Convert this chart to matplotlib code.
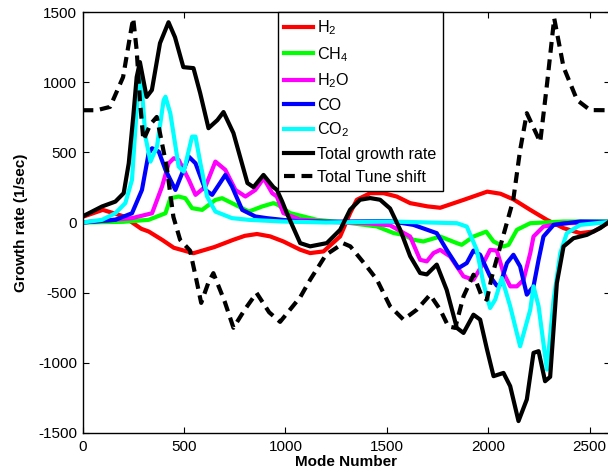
import matplotlib
matplotlib.use("Agg")
import matplotlib.pyplot as plt

plt.rcParams['font.family'] = ['Liberation Sans', 'DejaVu Sans']
plt.rcParams['mathtext.default'] = 'regular'
plt.rcParams['axes.unicode_minus'] = False

# ---- data ----
h2_x = [0, 100, 200, 290, 326, 392, 450, 547, 650, 744, 800, 860, 925, 990, 1073, 1122, 1188,
        1270, 1319, 1352, 1418, 1484, 1549, 1615, 1700, 1763, 1878, 1995, 2060, 2124, 2207,
        2289, 2371, 2453, 2519, 2600]
h2_y = [40, 90, 45, -45, -64, -123, -180, -219, -175, -123, -95, -82, -99, -135, -194, -218, -206,
        -99, 67, 162, 209, 209, 185, 138, 115, 105, 161, 220, 205, 165, 90,
        19, -40, -76, -64, 5]

ch4_x = [0, 200, 326, 409, 433, 474, 507, 540, 590, 655, 688, 737, 820, 885, 941, 958, 1023,
         1155, 1319, 1451, 1533, 1582, 1631, 1680, 1763, 1845, 1869, 1927, 1990, 2026, 2075,
         2100, 2141, 2207, 2371, 2600]
ch4_y = [0, 5, 19, 66, 173, 185, 173, 102, 90, 161, 173, 138, 78, 114, 138, 130, 67,
         19, -4, -28, -75, -88, -123, -135, -100, -147, -159, -100, -65, -135, -171,
         -159, -52, -5, 7, 7]

h2o_x = [0, 244, 343, 392, 425, 450, 474, 524, 557, 606, 655, 704, 754, 803, 852, 893, 935,
         958, 990, 1073, 1200, 1400, 1516, 1615, 1664, 1697, 1730, 1763, 1812, 1878, 1927,
         1976, 2009, 2042, 2075, 2108, 2141, 2174, 2207, 2223, 2272, 2371, 2600]
h2o_y = [0, 31, 66, 256, 422, 458, 446, 304, 197, 256, 434, 375, 232, 185, 232, 315, 209,
         185, 67, 20, 5, -5, -20, -100, -266, -277, -218, -195, -242, -384, -408,
         -289, -195, -200, -360, -455, -455, -408, -218, -100, -29, -5, 0]

co_x = [0, 162, 244, 293, 326, 343, 376, 409, 458, 491, 524, 557, 606, 639, 688, 704, 737,
        787, 852, 908, 984, 1073, 1200, 1516, 1631, 1746, 1795, 1853, 1894, 1927, 1960, 2009,
        2042, 2059, 2092, 2124, 2157, 2190, 2223, 2248, 2272, 2322, 2453, 2600]
co_y = [0, 19, 66, 232, 493, 529, 505, 375, 232, 351, 469, 422, 232, 197, 304, 339, 256,
        90, 43, 31, 19, 7, 5, 10, -17, -76, -195, -325, -289, -200, -230, -384,
        -450, -443, -289, -230, -313, -514, -455, -266, -100, -17, 7, 5]

co2_x = [0, 96, 162, 211, 244, 260, 277, 287, 310, 335, 367, 400, 409, 433, 474, 499, 540,
         557, 581, 614, 655, 737, 820, 984, 1200, 1516, 1845, 1894, 1943, 1976, 2009, 2034,
         2059, 2067, 2108, 2157, 2207, 2223, 2248, 2289, 2322, 2355, 2387, 2453, 2600]
co2_y = [0, 19, 66, 138, 304, 659, 1003, 1062, 612, 434, 540, 872, 896, 777, 398, 363, 612,
         612, 422, 185, 78, 31, 19, 7, 0, 7, -5, -29, -194, -432, -609, -550,
         -432, -396, -597, -882, -621, -455, -597, -1048, -550, -218, -76, -17, 5]

tot_x = [0, 96, 162, 203, 228, 250, 267, 283, 316, 342, 382, 424, 456, 497, 547, 580, 621,
         665, 695, 744, 813, 843, 892, 941, 958, 984, 1007, 1073, 1122, 1204, 1270, 1319, 1368,
         1418, 1467, 1516, 1566, 1615, 1664, 1697, 1746, 1795, 1845, 1878, 1927, 1960, 1993,
         2026, 2075, 2108, 2149, 2190, 2223, 2248, 2280, 2305, 2338, 2371, 2420, 2486, 2552,
         2600]
tot_y = [43, 114, 149, 209, 422, 752, 1036, 1143, 895, 944, 1278, 1427, 1320, 1107, 1100, 922, 672,
         730, 787, 637, 281, 252, 339, 252, 233, 150, 67, -147, -170, -147, -52, 91, 162,
         174, 162, 100, -52, -240, -360, -370, -300, -480, -751, -787, -657, -692, -900,
         -1095, -1072, -1166, -1415, -1261, -929, -917, -1131, -1100, -432, -171, -112, -88, -40,
         10]

tune_x = [0, 70, 136, 200, 242, 250, 267, 283, 300, 335, 366, 415, 448, 481, 530, 560, 585,
          620, 645, 700, 744, 800, 858, 920, 974, 1074, 1122, 1200, 1285, 1320, 1402, 1451,
          1516, 1582, 1648, 1713, 1763, 1803, 1837, 1878, 1927, 1968, 1993, 2018, 2059, 2123,
          2157, 2190, 2256, 2290, 2325, 2371, 2438, 2502, 2600]
tune_y = [800, 800, 824, 1036, 1393, 1455, 1228, 872, 587, 700, 752, 396, 40, -123, -200, -400, -573,
          -430, -361, -560, -750, -620, -502, -640, -708, -530, -408, -230, -148, -170, -315, -407,
          -597, -692, -621, -515, -621, -740, -751, -526, -372, -526, -550, -384, -171, 160,
          516, 779, 573, 992, 1455, 1107, 872, 801, 800]

labels = ['H$_2$', 'CH$_4$', 'H$_2$O', 'CO', 'CO$_2$', 'Total growth rate', 'Total Tune shift']
xticks = [0, 500, 1000, 1500, 2000, 2500]
yticks = [-1500, -1000, -500, 0, 500, 1000, 1500]

# ---- figure ----
fig = plt.figure(figsize=(6.08, 4.74), dpi=100)
W, H = 608, 474
ax = fig.add_axes([82.5 / W, (H - 433) / H, (610 - 82.5) / W, (433 - 12) / H])

lw = 3
ax.plot(h2_x, h2_y, color=(1, 0, 0), lw=lw, label=labels[0])
ax.plot(ch4_x, ch4_y, color=(0, 1, 0), lw=lw, label=labels[1])
ax.plot(h2o_x, h2o_y, color=(1, 0, 1), lw=lw, label=labels[2])
ax.plot(co_x, co_y, color=(0, 0, 1), lw=lw, label=labels[3])
ax.plot(co2_x, co2_y, color=(0, 1, 1), lw=lw, label=labels[4])
ax.plot(tot_x, tot_y, color='k', lw=lw, label=labels[5])
ax.plot(tune_x, tune_y, color='k', lw=lw, dashes=(2.6, 1.6), dash_capstyle='butt',
        label=labels[6])

ax.set_xlim(0, 2600)
ax.set_ylim(-1500, 1500)
ax.set_xticks(xticks)
ax.set_yticks(yticks)
ax.tick_params(direction='in', top=True, right=True, length=4, width=0.8,
               labelsize=11, pad=4)
ax.tick_params(axis='x', pad=5)
for s in ax.spines.values():
    s.set_linewidth(1.0)

ax.set_xlabel('Mode Number', fontsize=11, fontweight='bold', labelpad=1)
ax.set_ylabel('Growth rate (1/sec)', fontsize=11, fontweight='bold')
ax.yaxis.set_label_coords((28 - 82.5) / 527.5, 0.5)

leg = ax.legend(loc='upper left', bbox_to_anchor=(278 / W, 1 - 12 / H),
                bbox_transform=fig.transFigure, fontsize=11.6, frameon=True,
                fancybox=False, shadow=False, framealpha=1, edgecolor='k',
                handlelength=1.75, handletextpad=0.28, borderpad=0.4,
                labelspacing=0.48, borderaxespad=0)
leg.get_frame().set_linewidth(1.0)

fig.savefig('out.png', dpi=100)
